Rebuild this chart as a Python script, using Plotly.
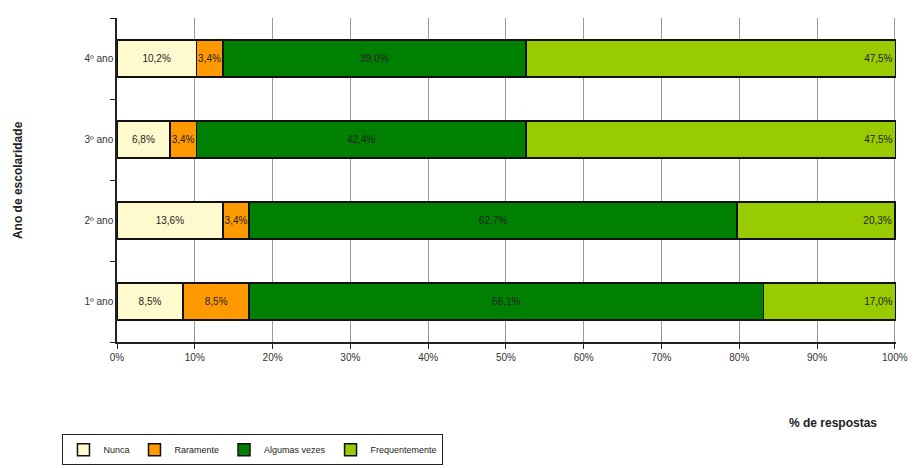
import plotly.graph_objects as go

categories = ["1º ano", "2º ano", "3º ano", "4º ano"]
nunca = [8.5, 13.6, 6.8, 10.2]
raramente = [8.5, 3.4, 3.4, 3.4]
algumas = [66.1, 62.7, 42.4, 39.0]
frequente = [17.0, 20.3, 47.5, 47.5]
series_names = ["Nunca", "Raramente", "Algumas vezes", "Frequentemente"]
colors = ["#FFFACD", "#FF9900", "#008000", "#99CC00"]
x_ticks = [0, 10, 20, 30, 40, 50, 60, 70, 80, 90, 100]
x_labels = [f"{t}%" for t in x_ticks]

def fmt(v):
    return f"{v:.1f}".replace(".", ",") + "%"

fig = go.Figure()
anchors = ["middle", "middle", "middle", "end"]
for name, vals, col, anc in zip(series_names, [nunca, raramente, algumas, frequente], colors, anchors):
    fig.add_trace(go.Bar(
        y=categories, x=vals, name=name, orientation="h",
        marker=dict(color=col, line=dict(color="#111111", width=1.5)),
        text=[fmt(v) for v in vals], textposition="inside",
        insidetextanchor=anc, textangle=0,
        textfont=dict(family="Liberation Sans, Arial", size=10, color="#222222"),
        constraintext="none", cliponaxis=False,
    ))

fig.update_layout(
    barmode="stack", bargap=0.54,
    width=920, height=468,
    margin=dict(l=117, r=22, t=18, b=126),
    paper_bgcolor="white", plot_bgcolor="white",
    font=dict(family="Liberation Sans, Arial", size=11, color="#222222"),
    legend=dict(orientation="h", x=-0.07, y=0.072, yref="container",
                xanchor="left", yanchor="top",
                bgcolor="white", bordercolor="#222222", borderwidth=1,
                font=dict(size=9), traceorder="normal", itemwidth=30),
    showlegend=True,
)
fig.update_xaxes(
    range=[0, 100.15], tickvals=x_ticks, ticktext=x_labels,
    showgrid=True, gridcolor="#999999", gridwidth=1,
    showline=True, linecolor="#222222", linewidth=1.5,
    ticks="outside", ticklen=5, tickcolor="#222222", zeroline=False,
    tickfont=dict(size=10, color="#333333"),
)
fig.update_yaxes(
    categoryorder="array", categoryarray=categories,
    showline=True, linecolor="#222222", linewidth=1.5,
    ticks="outside", ticklen=5, tickcolor="#222222", tickson="boundaries",
    showgrid=False, tickfont=dict(size=10, color="#333333"),
)
fig.add_annotation(text="<b>% de respostas</b>", xref="paper", yref="paper",
                   x=0.919, y=-0.25, xanchor="center", yanchor="middle",
                   showarrow=False, font=dict(size=12, color="#222222"))
fig.add_annotation(text="<b>Ano de escolaridade</b>", xref="paper", yref="paper",
                   x=-0.127, y=0.5, xanchor="center", yanchor="middle", textangle=-90,
                   showarrow=False, font=dict(size=12, color="#222222"))
fig.write_html("out.html")
